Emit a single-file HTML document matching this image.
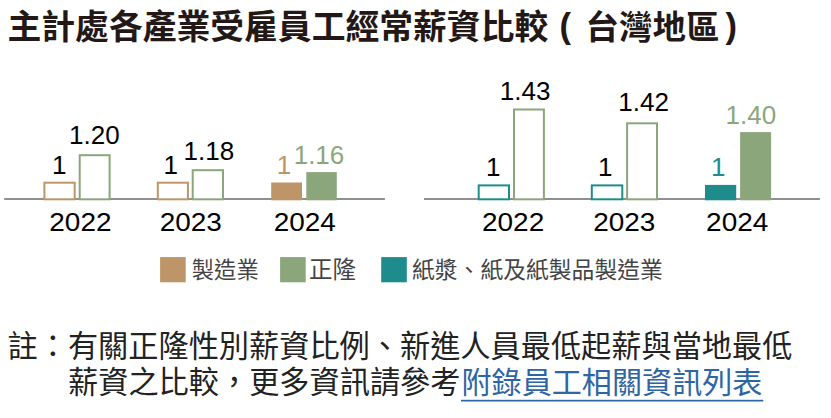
<!DOCTYPE html>
<html><head><meta charset="utf-8"><title>chart</title>
<style>
html,body{margin:0;padding:0;background:#fff}
svg{display:block}
</style></head><body>
<svg width="831" height="418" viewBox="0 0 831 418">
<rect width="831" height="418" fill="#fff"/>
<text x="7.5" y="39" font-size="33.8" font-weight="bold" fill="#231815" font-family="'Liberation Sans', 'Noto Sans CJK TC', sans-serif">主計處各產業受雇員工經常薪資比較</text>
<text x="559.5" y="38" font-size="34.5" font-weight="bold" fill="#231815" font-family="'Liberation Sans', 'Noto Sans CJK TC', sans-serif">(</text>
<text x="585.5" y="39" font-size="33.5" font-weight="bold" fill="#231815" font-family="'Liberation Sans', 'Noto Sans CJK TC', sans-serif">台灣地區</text>
<text x="725.5" y="38" font-size="34.5" font-weight="bold" fill="#231815" font-family="'Liberation Sans', 'Noto Sans CJK TC', sans-serif">)</text>
<rect x="4.2" y="198" width="380.70" height="2" fill="#8F8F8F"/>
<rect x="424" y="198" width="396.00" height="2" fill="#8F8F8F"/>
<rect x="44.40" y="182.70" width="30.30" height="16.60" fill="#fff" stroke="#BE9568" stroke-width="2.0"/>
<rect x="79.70" y="155.20" width="29.90" height="44.10" fill="#fff" stroke="#8CA67C" stroke-width="2.0"/>
<rect x="157.80" y="182.70" width="30.10" height="16.60" fill="#fff" stroke="#BE9568" stroke-width="2.0"/>
<rect x="192.70" y="170.20" width="30.30" height="29.10" fill="#fff" stroke="#8CA67C" stroke-width="2.0"/>
<rect x="271.20" y="182.50" width="30.80" height="17.80" fill="#BE9568"/>
<rect x="306.30" y="172.10" width="30.50" height="28.20" fill="#8CA67C"/>
<rect x="478.70" y="185.40" width="30.30" height="13.90" fill="#fff" stroke="#1E8C8D" stroke-width="2.0"/>
<rect x="514.00" y="109.50" width="29.90" height="89.80" fill="#fff" stroke="#8CA67C" stroke-width="2.0"/>
<rect x="591.80" y="185.40" width="30.50" height="13.90" fill="#fff" stroke="#1E8C8D" stroke-width="2.0"/>
<rect x="627.10" y="123.30" width="29.90" height="76.00" fill="#fff" stroke="#8CA67C" stroke-width="2.0"/>
<rect x="705.00" y="184.90" width="31.20" height="15.40" fill="#1E8C8D"/>
<rect x="740.10" y="132.10" width="31.00" height="68.20" fill="#8CA67C"/>
<g font-family="'Liberation Sans', sans-serif" font-size="26">
<text x="52" y="173.8" fill="#000">1</text>
<text x="69" y="143.8" fill="#000">1.20</text>
<text x="163.6" y="173.8" fill="#000">1</text>
<text x="183.6" y="160.2" fill="#000">1.18</text>
<text x="276.7" y="173.8" fill="#BE9568">1</text>
<text x="293.7" y="163.9" fill="#8CA67C">1.16</text>
<text x="486.1" y="176.1" fill="#000">1</text>
<text x="499.8" y="99.9" fill="#000">1.43</text>
<text x="598" y="176.1" fill="#000">1</text>
<text x="618.3" y="110.8" fill="#000">1.42</text>
<text x="711.1" y="176.1" fill="#1E8C8D">1</text>
<text x="725.5" y="123.8" fill="#8CA67C">1.40</text>
<text x="49.3" y="230.8" fill="#000" textLength="62.2" lengthAdjust="spacingAndGlyphs">2022</text>
<text x="159.7" y="230.8" fill="#000" textLength="62.2" lengthAdjust="spacingAndGlyphs">2023</text>
<text x="273.7" y="230.8" fill="#000" textLength="62.2" lengthAdjust="spacingAndGlyphs">2024</text>
<text x="482" y="230.8" fill="#000" textLength="62.2" lengthAdjust="spacingAndGlyphs">2022</text>
<text x="593.2" y="230.8" fill="#000" textLength="62.2" lengthAdjust="spacingAndGlyphs">2023</text>
<text x="706.1" y="230.8" fill="#000" textLength="62.2" lengthAdjust="spacingAndGlyphs">2024</text>
</g>
<rect x="160.10" y="257.10" width="25.60" height="25.20" fill="#BE9568"/>
<rect x="280.10" y="257.10" width="25.60" height="25.20" fill="#8CA67C"/>
<rect x="381.20" y="257.10" width="25.60" height="25.20" fill="#1E8C8D"/>
<text x="191.8" y="278" font-size="22.3" fill="#444446" font-family="'Liberation Sans', 'Noto Sans CJK TC', sans-serif">製造業</text>
<text x="309" y="278" font-size="23.5" fill="#444446" font-family="'Liberation Sans', 'Noto Sans CJK TC', sans-serif">正隆</text>
<text x="412" y="278" font-size="22.8" fill="#444446" font-family="'Liberation Sans', 'Noto Sans CJK TC', sans-serif">紙漿、紙及紙製品製造業</text>
<text x="7.5" y="357" font-size="30.2" fill="#222" font-family="'Liberation Sans', 'Noto Sans CJK TC', sans-serif">註：有關正隆性別薪資比例、新進人員最低起薪與當地最低</text>
<text x="68" y="393" font-size="30.2" fill="#222" font-family="'Liberation Sans', 'Noto Sans CJK TC', sans-serif">薪資之比較，更多資訊請參考</text>
<text x="461.5" y="393" font-size="30.1" fill="#2E65A4" font-family="'Liberation Sans', 'Noto Sans CJK TC', sans-serif">附錄員工相關資訊列表</text>
<rect x="461" y="399.8" width="302.30" height="1.7" fill="#2E65A4"/>
</svg>
</body></html>
